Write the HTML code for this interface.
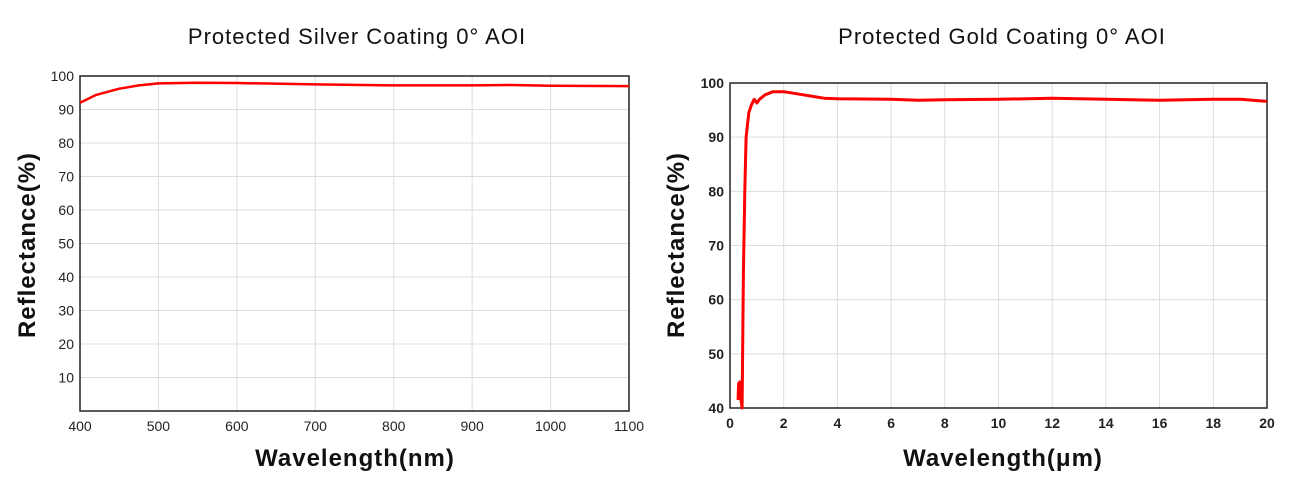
<!DOCTYPE html>
<html><head><meta charset="utf-8"><style>
body{margin:0;background:#fff;}
svg{display:block;font-family:"Liberation Sans",sans-serif;}
</style></head><body>
<svg id="c" width="1300" height="488">
<text x="357" y="44" text-anchor="middle" font-size="22" letter-spacing="1" fill="#111">Protected Silver Coating 0° AOI</text>
<text x="1002" y="44" text-anchor="middle" font-size="22" letter-spacing="1" fill="#111">Protected Gold Coating 0° AOI</text>
<text transform="translate(35,245) rotate(-90)" text-anchor="middle" font-size="24" font-weight="bold" letter-spacing="1" fill="#111">Reflectance(%)</text>
<text transform="translate(684,245) rotate(-90)" text-anchor="middle" font-size="24" font-weight="bold" letter-spacing="1" fill="#111">Reflectance(%)</text>
<text x="355" y="466" text-anchor="middle" font-size="24" font-weight="bold" letter-spacing="1" fill="#111">Wavelength(nm)</text>
<text x="1003" y="466" text-anchor="middle" font-size="24" font-weight="bold" letter-spacing="1" fill="#111">Wavelength(μm)</text>
<g id="g1"></g><g id="g2"></g>
</svg>
<script>
const silverX=[400,420,450,475,500,550,600,700,800,900,950,1000,1100];
const silverY=[92,94.3,96.2,97.2,97.8,98,97.9,97.5,97.2,97.2,97.3,97.1,97.0];
const silverXTicks=[400,500,600,700,800,900,1000,1100];
const silverYTicks=[10,20,30,40,50,60,70,80,90,100];
const goldX=[0.3,0.32,0.37,0.4,0.45,0.5,0.55,0.6,0.7,0.8,0.9,1.0,1.1,1.3,1.6,2,2.5,3,3.5,4,6,7,8,10,12,14,16,18,19,20];
const goldY=[41.5,44.5,44.8,42,40,65,80,90,94.5,96,97,96.3,97,97.8,98.4,98.4,98,97.6,97.2,97.1,97,96.8,96.9,97,97.2,97,96.8,97,97,96.6];
const goldXTicks=[0,2,4,6,8,10,12,14,16,18,20];
const goldYTicks=[40,50,60,70,80,90,100];
const NS="http://www.w3.org/2000/svg";
function mk(p,t,a){const e=document.createElementNS(NS,t);for(const k in a)e.setAttribute(k,a[k]);p.appendChild(e);return e;}
function chart(g,o){
 const sx=v=>o.x0+(v-o.xmin)/(o.xmax-o.xmin)*(o.x1-o.x0);
 const sy=v=>o.y1-(v-o.ymin)/(o.ymax-o.ymin)*(o.y1-o.y0);
 o.xt.forEach(v=>{const l=mk(g,'line',{x1:sx(v),x2:sx(v),y1:o.y0,y2:o.y1,stroke:'#ddd','stroke-width':1});
  
  
  const t=mk(g,'text',{x:sx(v),y:o.y1+20,'text-anchor':'middle','font-size':14,fill:'#222','font-weight':o.bold?'bold':'normal'});t.textContent=v;
  
  });
 o.yt.forEach(v=>{const l=mk(g,'line',{x1:o.x0,x2:o.x1,y1:sy(v),y2:sy(v),stroke:'#ddd','stroke-width':1});
  
  
  const t=mk(g,'text',{x:o.x0-6,y:sy(v)+5,'text-anchor':'end','font-size':14,fill:'#222','font-weight':o.bold?'bold':'normal'});t.textContent=v;
  
  });
 const r=mk(g,'rect',{x:o.x0,y:o.y0,width:o.x1-o.x0,height:o.y1-o.y0,fill:'none',stroke:'#222','stroke-width':1.5});
 
 
 const d=o.xs.map((v,i)=>(i?'L':'M')+sx(v).toFixed(1)+','+sy(o.ys[i]).toFixed(1)).join('');
 const p=mk(g,'path',{d:d,fill:'none',stroke:'#f00','stroke-width':o.w,'stroke-linejoin':'round'});
 
 
}
chart(document.getElementById('g1'),{x0:80,x1:629,y0:76,y1:411,xmin:400,xmax:1100,ymin:0,ymax:100,xt:silverXTicks,yt:silverYTicks,xs:silverX,ys:silverY,w:2.5,bold:false});
chart(document.getElementById('g2'),{x0:730,x1:1267,y0:83,y1:408,xmin:0,xmax:20,ymin:40,ymax:100,xt:goldXTicks,yt:goldYTicks,xs:goldX,ys:goldY,w:3,bold:true});
</script>
</body></html>
